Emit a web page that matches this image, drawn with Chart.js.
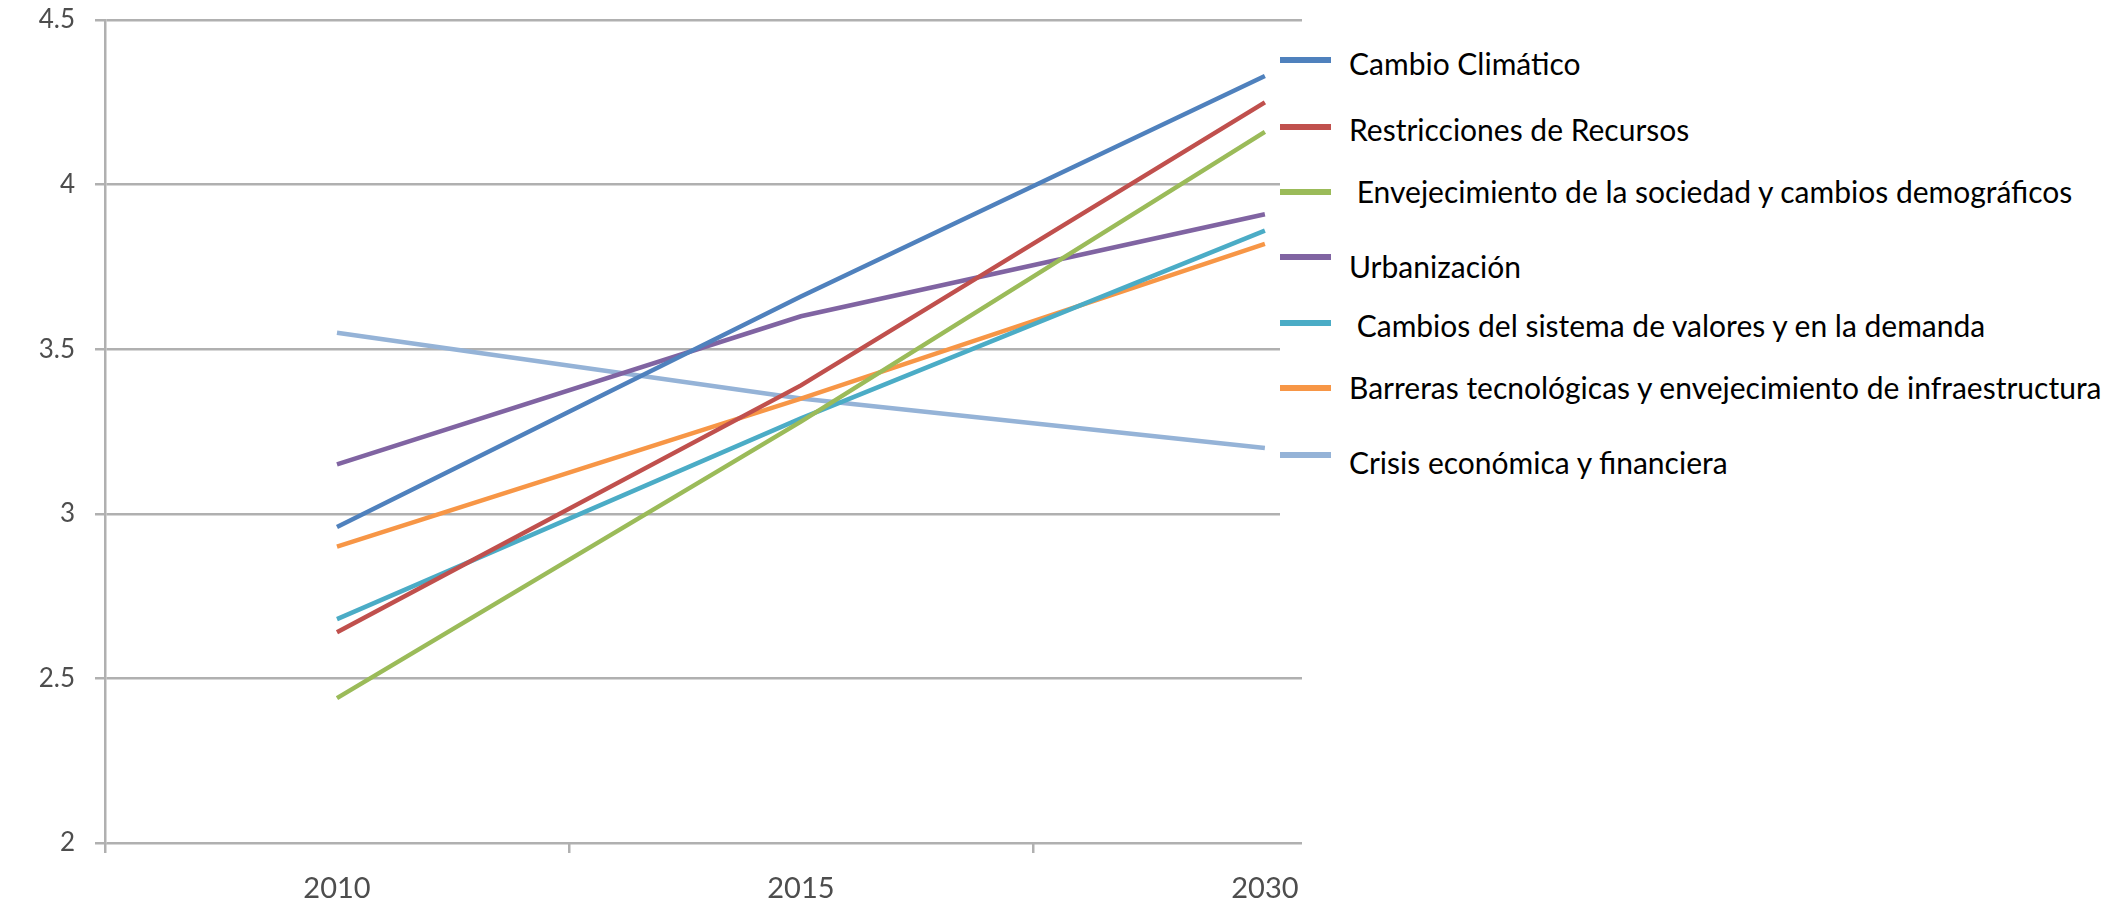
<!DOCTYPE html>
<html>
<head>
<meta charset="utf-8">
<script src="https://cdn.jsdelivr.net/npm/chart.js@4.4.1/dist/chart.umd.min.js"></script>
<style>
  body { margin: 0; background: #fff; }
  .wrap { position: relative; width: 2104px; height: 907px; }
  #legend { position: absolute; left: 1280px; top: 0; width: 824px; height: 560px; font-family: Lato, sans-serif; font-size: 30px; color: #000; }
  #legend .box { position: absolute; left: 0; top: 30px; width: 824px; height: 530px; background: #fff; }
  .swatch { position: absolute; left: 0; width: 51px; height: 6px; margin-top: -3px; }
  .txt { position: absolute; white-space: pre; line-height: 1; transform: translateY(-55%); }
</style>
</head>
<body>
<div class="wrap">
  <canvas id="myLineChart"></canvas>
  <div id="legend"><div class="box"></div></div>
</div>
<script>
// data
var years = ['2010', '2015', '2030'];
var cambioClimatico = [2.96, 3.66, 4.33];
var restricciones = [2.64, 3.39, 4.25];
var envejecimiento = [2.44, 3.28, 4.16];
var urbanizacion = [3.15, 3.60, 3.91];
var cambiosValores = [2.68, 3.29, 3.86];
var barreras = [2.90, 3.35, 3.82];
var crisis = [3.55, 3.35, 3.20];
var yTicks = [2, 2.5, 3, 3.5, 4, 4.5];

var seriesNames = [
	'Cambio Climático',
	'Restricciones de Recursos',
	' Envejecimiento de la sociedad y cambios demográficos',
	'Urbanización',
	' Cambios del sistema de valores y en la demanda',
	'Barreras tecnológicas y envejecimiento de infraestructura',
	'Crisis económica y financiera'
];
var seriesValues = [cambioClimatico, restricciones, envejecimiento, urbanizacion, cambiosValores, barreras, crisis];
var seriesColors = ['#4F81BD', '#C0504D', '#9BBB59', '#8064A2', '#4BACC6', '#F79646', '#95B3D7'];

// legend rows (page y of the swatch and of the text)
var legendLineY = [60, 127, 192, 257, 323, 388, 455];
var legendTextY = [64, 130, 192, 267, 326, 388, 463];

var gridColor = '#b0b0b0';
var tickColor = '#4d4d4d';

var datasets = seriesNames.map(function (name, i) {
	return {
		label: name.trim(),
		data: seriesValues[i].map(function (v, j) { return { x: j, y: v }; }),
		borderColor: seriesColors[i],
		backgroundColor: seriesColors[i],
		borderWidth: 4.5,
		pointRadius: 0,
		tension: 0,
		fill: false
	};
});

var config = {
	type: 'line',
	data: { datasets: datasets },
	options: {
		responsive: true,
		maintainAspectRatio: false,
		animation: false,
		layout: { padding: { top: 20, right: 802, left: 0, bottom: 0 } },
		plugins: {
			legend: { display: false },
			tooltip: { enabled: false }
		},
		scales: {
			x: {
				type: 'linear',
				min: -0.5,
				max: 2.08,
				afterBuildTicks: function (scale) {
					scale.ticks = [-0.5, 0, 0.5, 1, 1.5, 2].map(function (v) { return { value: v }; });
				},
				afterFit: function (scale) {
					scale.height = 64;
					scale.paddingLeft = 0;
					scale.paddingRight = 0;
				},
				grid: {
					drawOnChartArea: false,
					tickLength: 10,
					lineWidth: 2.5,
					color: function (ctx) {
						return ctx.tick && Number.isInteger(ctx.tick.value) ? 'rgba(0,0,0,0)' : gridColor;
					}
				},
				border: { display: false },
				ticks: {
					autoSkip: false,
					maxRotation: 0,
					padding: 18,
					color: tickColor,
					font: { family: 'Lato', size: 29 },
					callback: function (value) {
						return Number.isInteger(value) ? years[value] : '';
					}
				}
			},
			y: {
				min: 2,
				max: 4.5,
				afterBuildTicks: function (scale) {
					scale.ticks = yTicks.map(function (v) { return { value: v }; });
				},
				afterFit: function (scale) {
					scale.width = 105;
					scale.paddingTop = 0;
					scale.paddingBottom = 0;
				},
				grid: {
					color: gridColor,
					lineWidth: 2.5,
					tickLength: 10
				},
				border: { color: gridColor, width: 2.5 },
				ticks: {
					padding: 20,
					color: tickColor,
					font: { family: 'Lato', size: 26 },
					callback: function (value) { return String(value); }
				}
			}
		}
	}
};

var ctx = document.getElementById('myLineChart').getContext('2d');
var myLineChart = new Chart(ctx, config);

// legend next to the plot
var legend = document.getElementById('legend');
seriesNames.forEach(function (name, i) {
	var sw = document.createElement('div');
	sw.className = 'swatch';
	sw.style.top = legendLineY[i] + 'px';
	sw.style.background = seriesColors[i];
	legend.appendChild(sw);

	var t = document.createElement('div');
	t.className = 'txt';
	t.style.left = '69px';
	t.style.top = legendTextY[i] + 'px';
	t.textContent = name;
	legend.appendChild(t);
});
</script>
</body>
</html>
